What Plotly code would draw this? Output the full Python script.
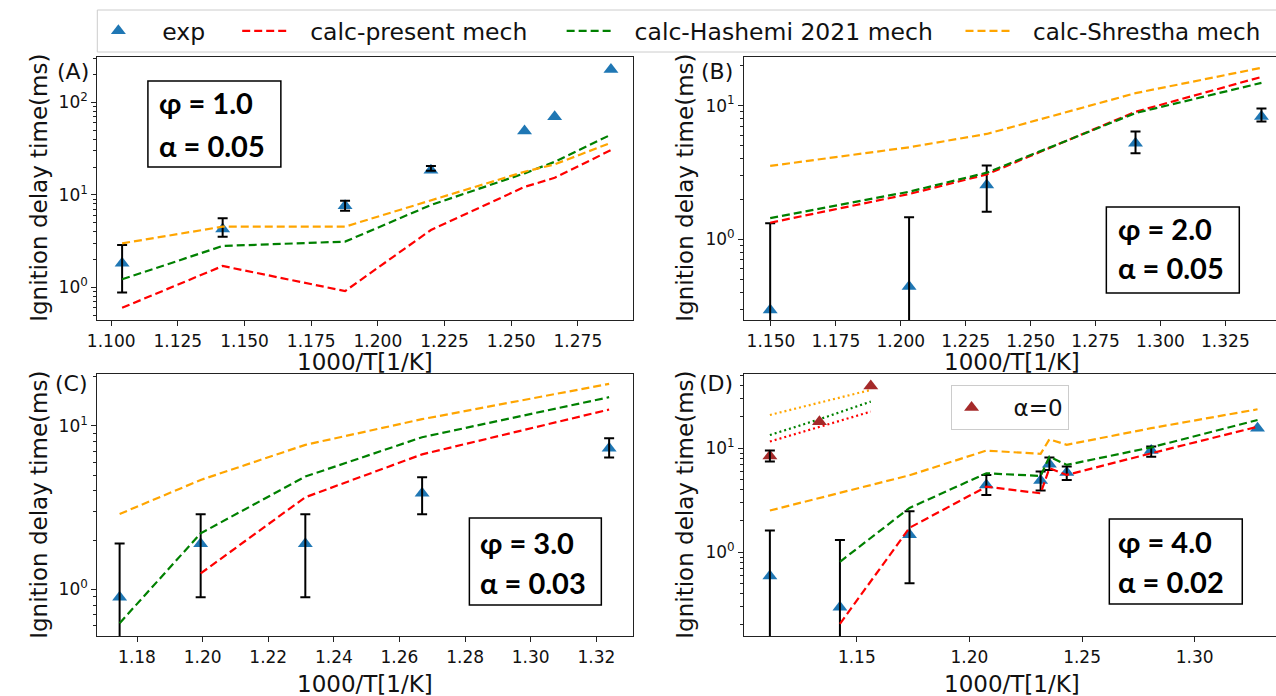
import plotly.graph_objects as go
from plotly.subplots import make_subplots

W, H = 1276, 696

# ---------------- data ----------------
# Panel A  (phi = 1.0, alpha = 0.05)
xA = [1.1041, 1.1418, 1.1877, 1.2199, 1.2550, 1.2663, 1.2874]
expA = [1.82, 4.27, 7.64, 18.5, 49.0, 70.0, 228.0]
errA_x = [1.1041, 1.1418, 1.1877, 1.2199]
errA_y = [1.82, 4.27, 7.64, 18.5]
errA_hi = [2.87, 5.57, 8.65, 20.5]
errA_lo = [0.88, 3.53, 6.74, 18.2]
presA = [0.60, 1.70, 0.91, 4.17, 12.2, 15.3, 30.5]
hashA = [1.22, 2.80, 3.12, 7.77, 17.1, 22.8, 44.8]
shreA = [2.99, 4.53, 4.53, 8.8, 17.8, 21.4, 36.6]

# Panel B  (phi = 2.0, alpha = 0.05)
xB = [1.1497, 1.2032, 1.2331, 1.2904, 1.3389]
expB = [0.296, 0.443, 2.55, 5.23, 8.28]
errB_hi = [1.32, 1.46, 3.56, 6.40, 9.5]
errB_lo = [0.02, 0.02, 1.61, 4.40, 7.6]
presB = [1.33, 2.18, 3.06, 9.0, 16.4]
hashB = [1.44, 2.27, 3.15, 8.8, 14.8]
shreB = [3.54, 4.88, 6.14, 12.4, 19.2]

# Panel C  (phi = 3.0, alpha = 0.03)
xC = [1.1747, 1.1994, 1.2313, 1.2669, 1.3239]
expC = [0.893, 1.90, 1.90, 3.87, 7.3]
errC_hi = [1.91, 2.88, 2.88, 4.85, 8.4]
errC_lo = [0.02, 0.893, 0.893, 2.88, 6.4]
presC = [None, 1.25, 3.66, 6.7, 12.6]
hashC = [0.62, 2.20, 4.90, 8.53, 15.0]
shreC = [2.89, 4.67, 7.66, 11.0, 18.1]

# Panel D  (phi = 4.0, alpha = 0.02)
xD = [1.1114, 1.1425, 1.1734, 1.2075, 1.2316, 1.2355, 1.2432, 1.2807, 1.3279]
expD = [0.592, 0.296, 1.47, 4.44, 4.89, 7.02, 5.84, 9.50, 15.6]
errD_x = [1.1114, 1.1425, 1.1734, 1.2075, 1.2316, 1.2355, 1.2432, 1.2807]
errD_y = [0.592, 0.296, 1.47, 4.44, 4.89, 7.02, 5.84, 9.50]
errD_hi = [1.62, 1.31, 2.48, 5.54, 5.97, 8.13, 6.67, 10.4]
errD_lo = [0.02, 0.02, 0.503, 3.56, 3.92, 6.19, 4.96, 8.3]
presD = [None, 0.205, 1.72, 4.27, 3.69, 6.43, 5.54, 8.95, 16.1]
hashD = [None, 0.81, 2.67, 5.75, 5.42, 8.3, 6.92, 10.2, 18.7]
shreD = [2.52, 3.75, 5.5, 9.5, 8.83, 12.2, 10.8, 15.6, 23.7]

# Panel D, alpha = 0
xD0 = [1.1114, 1.1334, 1.1562]
expD0 = [8.44, 18.0, 39.7]
errD0_x = [1.1114]
errD0_y = [8.44]
errD0_hi = [9.5]
errD0_lo = [7.45]
presD0 = [11.6, 16.1, 22.5]
hashD0 = [13.4, 19.0, 28.1]
shreD0 = [20.9, 27.5, 36.4]

BLUE = "#1f77b4"
RED = "#ff0000"
GREEN = "#008000"
ORANGE = "#ffa500"
BROWN = "#a52a2a"
DASH = "8px,4px"
DOT = "2px,3px"
FONT = "DejaVu Sans"
BOXFONT = "Lato"
NB = "\u00a0"


def px(x):
    return x / W


def py(y):
    return 1 - y / H


fig = make_subplots(rows=2, cols=2)


def add_err(x, y, hi, lo, row, col):
    fig.add_trace(go.Scatter(
        x=x, y=y, mode="markers",
        marker=dict(size=1, color="rgba(0,0,0,0)"),
        error_y=dict(type="data", symmetric=False,
                     array=[h - v for h, v in zip(hi, y)],
                     arrayminus=[v - l for v, l in zip(y, lo)],
                     color="black", thickness=2, width=5),
        showlegend=False, hoverinfo="skip"), row=row, col=col)


def add_panel(x, exp, ex, ey, ehi, elo, pres, hsh, shr, row, col, legend):
    fig.add_trace(go.Scatter(x=x, y=exp, mode="markers", name=NB * 2 + "exp",
                             legend="legend",
                             marker=dict(symbol="triangle-up", size=13, color=BLUE),
                             showlegend=legend), row=row, col=col)
    add_err(ex, ey, ehi, elo, row, col)
    fig.add_trace(go.Scatter(x=x, y=pres, mode="lines",
                             name=NB * 2 + "calc-present mech", legend="legend3",
                             line=dict(color=RED, width=2.2, dash=DASH),
                             showlegend=legend), row=row, col=col)
    fig.add_trace(go.Scatter(x=x, y=hsh, mode="lines",
                             name=NB * 2 + "calc-Hashemi 2021 mech", legend="legend4",
                             line=dict(color=GREEN, width=2.2, dash=DASH),
                             showlegend=legend), row=row, col=col)
    fig.add_trace(go.Scatter(x=x, y=shr, mode="lines",
                             name=NB * 2 + "calc-Shrestha mech", legend="legend5",
                             line=dict(color=ORANGE, width=2.2, dash=DASH),
                             showlegend=legend), row=row, col=col)


add_panel(xA, expA, errA_x, errA_y, errA_hi, errA_lo, presA, hashA, shreA, 1, 1, True)
add_panel(xB, expB, xB, expB, errB_hi, errB_lo, presB, hashB, shreB, 1, 2, False)
add_panel(xC, expC, xC, expC, errC_hi, errC_lo, presC, hashC, shreC, 2, 1, False)
add_panel(xD, expD, errD_x, errD_y, errD_hi, errD_lo, presD, hashD, shreD, 2, 2, False)

# alpha = 0 data in panel D
fig.add_trace(go.Scatter(x=xD0, y=presD0, mode="lines", showlegend=False,
                         line=dict(color=RED, width=2.2, dash=DOT)), row=2, col=2)
fig.add_trace(go.Scatter(x=xD0, y=hashD0, mode="lines", showlegend=False,
                         line=dict(color=GREEN, width=2.2, dash=DOT)), row=2, col=2)
fig.add_trace(go.Scatter(x=xD0, y=shreD0, mode="lines", showlegend=False,
                         line=dict(color=ORANGE, width=2.2, dash=DOT)), row=2, col=2)
fig.add_trace(go.Scatter(x=xD0, y=expD0, mode="markers", name=NB * 3 + "α=0",
                         legend="legend2",
                         marker=dict(symbol="triangle-up", size=13, color=BROWN)),
              row=2, col=2)
add_err(errD0_x, errD0_y, errD0_hi, errD0_lo, 2, 2)

# ---------------- axes ----------------
minor_vals = [m * 10 ** e for e in range(-2, 4) for m in range(2, 10)]
major_vals = [10 ** e for e in range(-2, 4)]
major_txt = ["10<sup>%d</sup>" % e for e in range(-2, 4)]

common_x = dict(showgrid=False, zeroline=False, showline=True, linecolor="#222",
                linewidth=1.2, ticks="outside", ticklen=5, tickwidth=1, tickcolor="#222",
                tickfont=dict(family=FONT, size=17, color="#111"))
common_y = dict(type="log", showgrid=False, zeroline=False, showline=True,
                linecolor="#222", linewidth=1.2, ticks="outside", ticklen=5,
                tickwidth=1, tickcolor="#222",
                tickfont=dict(family=FONT, size=17, color="#111"),
                tickvals=major_vals, ticktext=major_txt,
                minor=dict(ticks="outside", ticklen=3, tickwidth=1, tickcolor="#222",
                           tickvals=minor_vals, showgrid=False))

dom_left = [px(88), px(628)]
dom_right = [px(740), 1.0]
dom_top = [py(320), py(57)]
dom_bot = [py(636), py(374)]

xtA = [1.100, 1.125, 1.150, 1.175, 1.200, 1.225, 1.250, 1.275]
xtB = [1.150, 1.175, 1.200, 1.225, 1.250, 1.275, 1.300, 1.325]
xtC = [1.18, 1.20, 1.22, 1.24, 1.26, 1.28, 1.30, 1.32]
xtD = [1.15, 1.20, 1.25, 1.30]

fig.update_layout(
    xaxis=dict(common_x, domain=dom_left, range=[1.0948, 1.2957], mirror=True,
               tickvals=xtA, ticktext=["%.3f" % v for v in xtA]),
    yaxis=dict(common_y, domain=dom_top, range=[-0.354, 2.492], mirror=True),
    xaxis2=dict(common_x, domain=dom_right, range=[1.1397, 1.3445], mirror=True,
                tickvals=xtB, ticktext=["%.3f" % v for v in xtB]),
    yaxis2=dict(common_y, domain=dom_top, range=[-0.604, 1.364], mirror=False),
    xaxis3=dict(common_x, domain=dom_left, range=[1.1679, 1.3312], mirror=True,
                tickvals=xtC, ticktext=["%.2f" % v for v in xtC]),
    yaxis3=dict(common_y, domain=dom_bot, range=[-0.286, 1.318], mirror=True),
    xaxis4=dict(common_x, domain=dom_right, range=[1.1000, 1.3361], mirror=True,
                tickvals=xtD, ticktext=["%.2f" % v for v in xtD]),
    yaxis4=dict(common_y, domain=dom_bot, range=[-0.805, 1.714], mirror=False),
)

# ---------------- annotations ----------------
ann = []
shapes = []
ytitle = "Ignition delay time(ms)"
xtitle = "1000/T[1/K]"
for (xt, yt) in [(29, 188), (680, 188), (29, 505), (680, 505)]:
    ann.append(dict(x=px(xt), y=py(yt), xref="paper", yref="paper", text=ytitle,
                    textangle=-90, showarrow=False, xanchor="center", yanchor="middle",
                    font=dict(family=FONT, size=23, color="#111")))
for (xt, yt) in [(358, 362), (1010, 362), (358, 684), (1010, 684)]:
    ann.append(dict(x=px(xt), y=py(yt), xref="paper", yref="paper", text=xtitle,
                    showarrow=False, xanchor="center", yanchor="middle",
                    font=dict(family=FONT, size=23, color="#111")))
for (lab, xt, yt) in [("(A)", 63, 72), ("(B)", 713, 72), ("(C)", 62, 383), ("(D)", 712, 383)]:
    ann.append(dict(x=px(xt), y=py(yt), xref="paper", yref="paper", text=lab,
                    showarrow=False, xanchor="center", yanchor="middle",
                    font=dict(family=FONT, size=22, color="#111")))

boxes = [
    ((139, 81, 273, 167), (148, 103, 145), "φ = 1.0", "α = 0.05"),
    ((1105, 207, 1239, 293), (1115, 228, 268), "φ = 2.0", "α = 0.05"),
    ((463, 518, 596, 605), (472, 542, 582), "φ = 3.0", "α = 0.03"),
    ((1108, 519, 1242, 604), (1115, 541, 581), "φ = 4.0", "α = 0.02"),
]
for (x0, y0, x1, y1), (tx, t1, t2), s1, s2 in boxes:
    shapes.append(dict(type="rect", xref="paper", yref="paper", x0=px(x0), x1=px(x1),
                       y0=py(y0), y1=py(y1), line=dict(color="black", width=1.5),
                       fillcolor="white", layer="above"))
    for s, ty in [(s1, t1), (s2, t2)]:
        ann.append(dict(x=px(tx), y=py(ty), xref="paper", yref="paper",
                        text="<b>%s</b>" % s, showarrow=False,
                        xanchor="left", yanchor="middle",
                        font=dict(family=BOXFONT, size=29, color="black")))

# frame of the top legend
shapes.append(dict(type="rect", xref="paper", yref="paper", x0=px(88), x1=px(1300),
                   y0=py(52), y1=py(10), line=dict(color="#cccccc", width=1),
                   fillcolor="white", layer="above"))

leg_common = dict(orientation="h", yanchor="middle", xanchor="left",
                  bgcolor="rgba(0,0,0,0)", borderwidth=0, itemwidth=48,
                  font=dict(family=FONT, size=23.5, color="#111"))

fig.update_layout(
    width=W, height=H,
    margin=dict(l=0, r=0, t=0, b=0),
    paper_bgcolor="white", plot_bgcolor="white",
    font=dict(family=FONT, color="#111"),
    annotations=ann, shapes=shapes,
    showlegend=True,
    legend=dict(leg_common, x=px(80), y=py(31)),
    legend3=dict(leg_common, x=px(229), y=py(31)),
    legend4=dict(leg_common, x=px(556), y=py(31)),
    legend5=dict(leg_common, x=px(958), y=py(31),
                 font=dict(family=FONT, size=23, color="#111")),
    legend2=dict(x=px(948), y=py(385), xanchor="left", yanchor="top", itemwidth=30,
                 bgcolor="white", bordercolor="#cccccc", borderwidth=1,
                 font=dict(family=FONT, size=23, color="#111")),
)

fig.write_html("out.html")
